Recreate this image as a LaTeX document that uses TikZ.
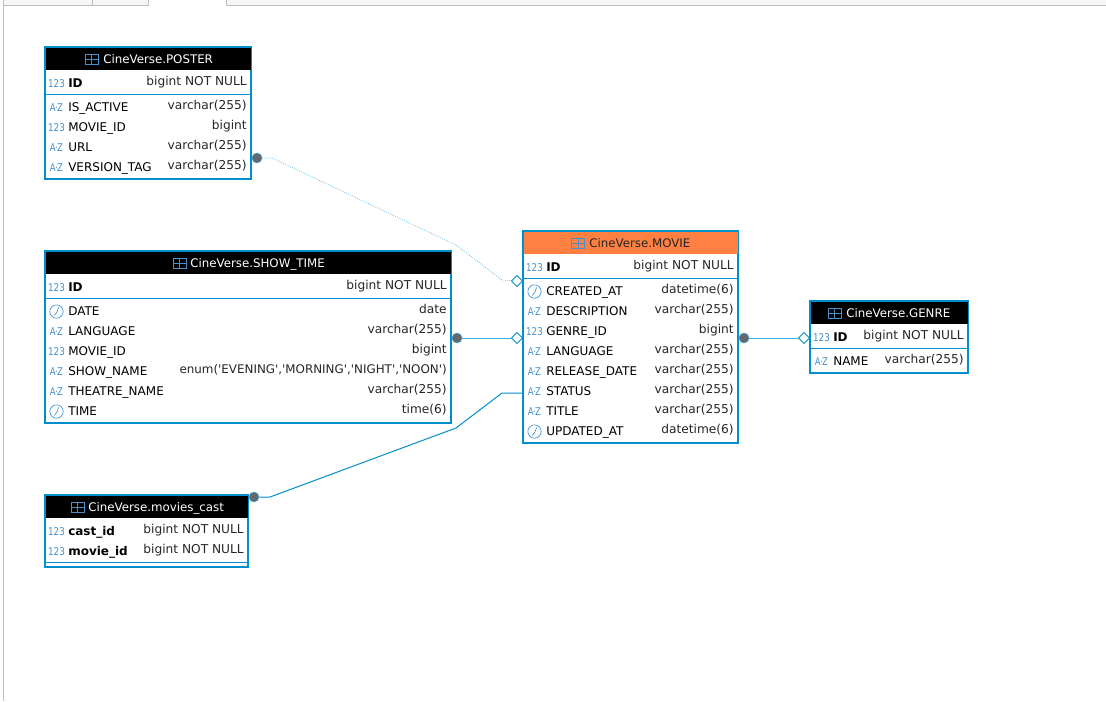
\documentclass[tikz,border=0pt]{standalone}
\usepackage{fontspec}
\setmainfont{DejaVu Sans}
\usepackage{tikz}
\usetikzlibrary{shapes.geometric}
\definecolor{edge}{RGB}{0, 142, 204}
\definecolor{link}{RGB}{60, 175, 225}
\definecolor{icon}{RGB}{70, 145, 205}
\definecolor{head}{RGB}{255, 128, 64}
\definecolor{dot}{RGB}{100, 104, 110}
\definecolor{tabline}{RGB}{190, 190, 190}
\definecolor{tabfill}{RGB}{246, 246, 246}
\tikzset{
  tbl/.style={draw=edge, line width=1.5pt, fill=white, inner sep=0pt},
  hdr/.style={fill=#1, inner sep=0pt},
  title/.style={anchor=mid west, inner sep=0pt, font=\fontsize{8.87}{10}\selectfont},
  icn/.style={inner sep=0pt, text=icon, font=\fontsize{8}{9}\selectfont},
  fname/.style={anchor=mid west, inner sep=0pt, font=\fontsize{9}{10}\selectfont},
  ftype/.style={anchor=mid east, inner sep=0pt, text=black!85, font=\fontsize{9.15}{10}\selectfont},
  sep/.style={draw=edge, line width=.75pt},
  fk/.style={circle, fill=dot, draw=link, line width=.4pt, inner sep=0pt, minimum size=7.5pt},
  pk/.style={diamond, draw=edge, fill=white, line width=.6pt, inner sep=0pt, minimum size=8.5pt},
  rel/.style={draw=link, line width=.5pt},
}
\def\numic{\scalebox{.82}[1]{123}}
\def\azic{\scalebox{.8}[1]{A\kern-.6pt\textperiodcentered\kern-.6ptZ}}
\def\clockic{\tikz{\draw[icon, line width=.5pt] (0,0) circle (5pt);
  \draw[icon, line width=.5pt] (1.6pt,3pt) -- (.3pt,-.4pt) -- (-1.6pt,-3pt);}}
\def\qq{\textquotesingle}
\newcommand\tblic[3]{%
  \draw[#3, line width=.7pt] (#1-6.5,#2-4.5) rectangle (#1+6.5,#2+5.5);
  \draw[#3, line width=1.1pt] (#1-6.5,#2-4.5) -- (#1+6.5,#2-4.5);
  \draw[#3, line width=.6pt] (#1-6.5,#2+.5) -- (#1+6.5,#2+.5) (#1,#2-4.5) -- (#1,#2+5.5);}
\newcommand\dbrows[4]{%
  \foreach \yy/\ic/\nm/\ty [count=\n] in {#4} {
    \node[icn] (#1i\n) at (#2+11.5,\yy) {\ic};
    \node[fname] (#1n\n) at (#2+23,\yy) {\nm};
    \node[ftype] (#1t\n) at (#3-4,\yy-2) {\ty};
  }}

\begin{document}
\begin{tikzpicture}[x=.75pt, y=-.75pt]
  \useasboundingbox (0,0) rectangle (1106,701);
  \fill[white] (0,0) rectangle (1106,701);

  % tabs on top
  \fill[tabfill] (4,0) rectangle (148,5);
  \fill[tabfill] (226,0) rectangle (1106,5);
  \draw[tabline, line width=.75pt] (3.5,0) -- (3.5,701);
  \draw[tabline, line width=.75pt] (4,5.5) -- (148.5,5.5) -- (148.5,0);
  \draw[tabline, line width=.75pt] (92.5,0) -- (92.5,5);
  \draw[tabline, line width=.75pt] (226.5,0) -- (226.5,5.5) -- (1106,5.5);

  % tables
  \node[tbl, minimum width=154.5pt, minimum height=99pt] (POSTER) at (148,113) {};
  \node[tbl, minimum width=304.5pt, minimum height=129pt] (SHOWTIME) at (248,337) {};
  \node[tbl, minimum width=161.25pt, minimum height=159pt] (MOVIE) at (630.5,337) {};
  \node[tbl, minimum width=118.5pt, minimum height=54pt] (GENRE) at (889,337) {};
  \node[tbl, minimum width=152.25pt, minimum height=54pt] (CAST) at (146.5,531) {};

  % headers
  \node[hdr=black, minimum width=153.75pt, minimum height=16.5pt] (POSTERh) at (148,59) {};
  \node[hdr=black, minimum width=303.75pt, minimum height=16.5pt] (SHOWTIMEh) at (248,263) {};
  \node[hdr=head, minimum width=160.5pt, minimum height=16.5pt] (MOVIEh) at (630.5,243) {};
  \node[hdr=black, minimum width=117.75pt, minimum height=16.5pt] (GENREh) at (889,313) {};
  \node[hdr=black, minimum width=151.5pt, minimum height=16.5pt] (CASTh) at (146.5,507) {};

  \node[title, text=white] (POSTERt) at (103,59.5) {CineVerse.POSTER};
  \node[title, text=white] (SHOWTIMEt) at (190,263.5) {CineVerse.SHOW\_TIME};
  \node[title, text=black!85] (MOVIEt) at (589,243.5) {CineVerse.MOVIE};
  \node[title, text=white] (GENREt) at (846,313.5) {CineVerse.GENRE};
  \node[title, text=white] (CASTt) at (88,507.5) {CineVerse.movies\_cast};

  \tblic{91.5}{59}{icon}
  \tblic{179.5}{263}{icon}
  \tblic{578}{243}{icon}
  \tblic{834.5}{313}{icon}
  \tblic{77.5}{507}{icon}

  % separators
  \draw[sep] (POSTER.west |- 0,94) -- (POSTER.east |- 0,94);
  \draw[sep] (SHOWTIME.west |- 0,298) -- (SHOWTIME.east |- 0,298);
  \draw[sep] (MOVIE.west |- 0,278) -- (MOVIE.east |- 0,278);
  \draw[sep] (GENRE.west |- 0,348) -- (GENRE.east |- 0,348);
  \draw[sep] (CAST.west |- 0,562) -- (CAST.east |- 0,562);

  % rows
  \dbrows{p}{45}{251}{83.5/\numic/\textbf{ID}/bigint NOT NULL,
    107.5/\azic/IS\_ACTIVE/varchar(255), 127.5/\numic/MOVIE\_ID/bigint,
    147.5/\azic/URL/varchar(255), 167.5/\azic/VERSION\_TAG/varchar(255)}
  \dbrows{s}{45}{451}{287.5/\numic/\textbf{ID}/bigint NOT NULL,
    311.5/\clockic/DATE/date, 331.5/\azic/LANGUAGE/varchar(255),
    351.5/\numic/MOVIE\_ID/bigint,
    371.5/\azic/SHOW\_NAME/{\fontsize{8.92}{10}\selectfont enum(\qq EVENING\qq,\qq MORNING\qq,\qq NIGHT\qq,\qq NOON\qq)},
    391.5/\azic/THEATRE\_NAME/varchar(255), 411.5/\clockic/TIME/time(6)}
  \dbrows{m}{523}{738}{267.5/\numic/\textbf{ID}/bigint NOT NULL,
    291.5/\clockic/CREATED\_AT/datetime(6), 311.5/\azic/DESCRIPTION/varchar(255),
    331.5/\numic/GENRE\_ID/bigint, 351.5/\azic/LANGUAGE/varchar(255),
    371.5/\azic/RELEASE\_DATE/varchar(255), 391.5/\azic/STATUS/varchar(255),
    411.5/\azic/TITLE/varchar(255), 431.5/\clockic/UPDATED\_AT/datetime(6)}
  \dbrows{g}{810}{968}{337.5/\numic/\textbf{ID}/bigint NOT NULL,
    361.5/\azic/NAME/varchar(255)}
  \dbrows{c}{45}{248}{531.5/\numic/\textbf{cast\_id}/bigint NOT NULL,
    551.5/\numic/\textbf{movie\_id}/bigint NOT NULL}

  % links
  \node[fk] (pdot) at (257,158) {};
  \node[fk] (sdot) at (457,338) {};
  \node[fk] (mdot) at (744,338) {};
  \node[fk] (cdot) at (254,497) {};
  \node[pk] (mdia) at (517,281) {};
  \node[pk] (ndia) at (517,338) {};
  \node[pk] (gdia) at (804,338) {};
  \coordinate (mstat) at (MOVIE.west |- 0,393);

  \draw[rel, densely dotted] (pdot) -- (272,158) -- (456,245) -- (502,280) -- (mdia);
  \draw[rel] (sdot) -- (ndia);
  \draw[rel] (mdot) -- (gdia);
  \draw[edge, line width=.75pt] (cdot) -- (270,497) -- (456,428) -- (502,393) -- (mstat);
\end{tikzpicture}
\end{document}
